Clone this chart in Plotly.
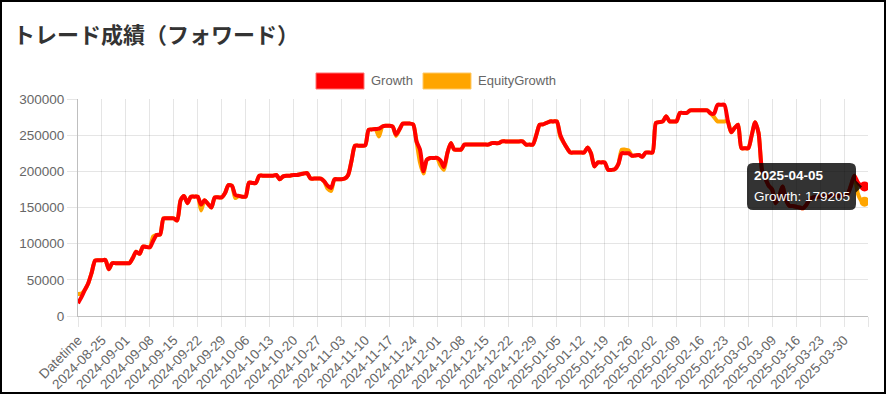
import pandas as pd
import plotly.graph_objects as go

# ---------------- data ----------------
title_text = "トレード成績（フォワード）"
series_names = ["Growth", "EquityGrowth"]

# category labels: header row + daily dates
day_labels = ["Datetime"] + [d.strftime("%Y-%m-%d") for d in pd.date_range("2024-08-19", "2025-04-05", freq="D")]

tick_labels = ["Datetime", "2024-08-25", "2024-09-01", "2024-09-08", "2024-09-15", "2024-09-22",
               "2024-09-29", "2024-10-06", "2024-10-13", "2024-10-20", "2024-10-27", "2024-11-03",
               "2024-11-10", "2024-11-17", "2024-11-24", "2024-12-01", "2024-12-08", "2024-12-15",
               "2024-12-22", "2024-12-29", "2025-01-05", "2025-01-12", "2025-01-19", "2025-01-26",
               "2025-02-02", "2025-02-09", "2025-02-16", "2025-02-23", "2025-03-02", "2025-03-09",
               "2025-03-16", "2025-03-23", "2025-03-30"]

growth = [
    17600, 26000, 36000, 45300, 60000, 76600, 77000, 77000, 77500, 64700,
    73000, 73000, 73000, 73000, 73000, 73000, 80000, 89000, 86000, 96000,
    95500, 95000, 104000, 112000, 112500, 135000, 135000, 135000, 135000, 132000,
    160000, 166000, 156000, 165000, 165000, 165000, 154000, 160000, 155000, 150000,
    164000, 164000, 164000, 170000, 181000, 180000, 167500, 166000, 165000, 165000,
    184500, 184000, 183700, 194000, 194000, 194000, 194000, 194000, 195000, 189000,
    193000, 194000, 194000, 195000, 195000, 196000, 197000, 197500, 190000, 190000,
    190000, 190000, 186000, 180000, 177000, 189000, 189000, 189000, 190000, 195000,
    215000, 235500, 235500, 235500, 236000, 257500, 258000, 258600, 259000, 262000,
    263000, 263000, 262000, 250700, 258000, 266000, 266000, 266000, 265000, 241000,
    230000, 200000, 216000, 218500, 218500, 218500, 215000, 206000, 225000, 239000,
    230000, 230000, 230000, 237000, 237000, 237000, 237000, 237000, 237000, 237000,
    237000, 239000, 239000, 239000, 241400, 241400, 241400, 241400, 241400, 241400,
    241400, 237000, 237000, 237000, 250000, 264500, 265000, 267000, 269000, 269000,
    269000, 250700, 240000, 232000, 226000, 226000, 226000, 226000, 226000, 233000,
    225000, 206800, 212300, 212300, 212300, 202000, 202000, 203000, 210000, 225000,
    225000, 225000, 221500, 222000, 222500, 220000, 226000, 226000, 226000, 267000,
    268000, 269000, 276000, 269000, 269000, 269000, 280700, 280700, 280700, 284400,
    284400, 284400, 284400, 284400, 284400, 280000, 280000, 292000, 292000, 292000,
    270000, 254000, 260000, 264500, 232000, 232000, 232000, 250000, 268000, 253000,
    202000, 190000, 180000, 174500, 156000, 165000, 179000, 160600, 152400, 152000,
    151000, 150000, 149000, 153700, 162000, 164000, 165000, 165000, 166000, 165000,
    166000, 167000, 166000, 166000, 167000, 168000, 180000, 194000, 185000, 180000,
    179205,
]

equity_growth = [
    30500, 31000, 36000, 45300, 60000, 76600, 77000, 77000, 77500, 64700,
    73000, 73000, 73000, 73000, 73000, 73000, 80000, 89000, 86000, 96000,
    95500, 95000, 110000, 112000, 112500, 135000, 135000, 135000, 135000, 132000,
    160000, 166000, 156000, 165000, 165000, 165000, 146000, 160000, 155000, 150000,
    164000, 164000, 164000, 170000, 181000, 180000, 163000, 166000, 165000, 165000,
    184500, 184000, 183700, 194000, 194000, 194000, 194000, 194000, 195000, 189000,
    193000, 194000, 194000, 195000, 195000, 196000, 197000, 197500, 190000, 190000,
    190000, 190000, 186000, 176000, 173000, 189000, 189000, 189000, 190000, 195000,
    215000, 235500, 235500, 235500, 236000, 257500, 258000, 258600, 248000, 262000,
    263000, 263000, 262000, 249000, 258000, 266000, 266000, 266000, 265000, 241000,
    212000, 197000, 216000, 218500, 218500, 218500, 208000, 202000, 225000, 239000,
    230000, 230000, 230000, 237000, 237000, 237000, 237000, 237000, 237000, 237000,
    237000, 239000, 239000, 239000, 241400, 241400, 241400, 241400, 241400, 241400,
    241400, 237000, 237000, 237000, 250000, 264500, 265000, 267000, 269000, 269000,
    269000, 248000, 240000, 232000, 226000, 226000, 226000, 226000, 226000, 233000,
    225000, 206800, 212300, 212300, 212300, 202000, 202000, 203000, 210000, 230000,
    230000, 229000, 221500, 222000, 222500, 220000, 226000, 226000, 226000, 267000,
    268000, 269000, 276000, 269000, 269000, 269000, 280700, 280700, 280700, 284400,
    284400, 284400, 284400, 284400, 284400, 280000, 275000, 269000, 269000, 269000,
    269000, 254000, 260000, 264500, 232000, 232000, 232000, 250000, 268000, 253000,
    202000, 190000, 180000, 174500, 156000, 165000, 179000, 160600, 152400, 152000,
    151000, 150000, 149000, 153700, 162000, 164000, 165000, 165000, 166000, 165000,
    166000, 167000, 166000, 166000, 167000, 168000, 180000, 194000, 170000, 160000,
    158000,
]

# ---------------- layout helpers (pixel -> paper) ----------------
W, H = 886, 394
ML, MR, MT, MB = 78, 18, 99, 78
PW, PH = W - ML - MR, H - MT - MB


def px(x):
    return (x - ML) / PW


def py(y):
    return (H - MB - y) / PH


FONT = "Liberation Sans, Arial, Helvetica, sans-serif"
TXT = "#666666"
GRID = "rgba(0,0,0,0.1)"
AXIS = "rgba(0,0,0,0.25)"
RED = "#ff0000"
ORANGE = "#ffa500"

x_idx = list(range(len(growth)))
tick_vals = [day_labels.index(t) for t in tick_labels] + [len(day_labels)]
tick_text = tick_labels + [""]

fig = go.Figure()
fig.add_trace(go.Scatter(x=x_idx, y=equity_growth, mode="lines", name=series_names[1],
                         line=dict(color=ORANGE, width=4, shape="spline", smoothing=0.7)))
fig.add_trace(go.Scatter(x=x_idx, y=growth, mode="lines", name=series_names[0],
                         line=dict(color=RED, width=4, shape="spline", smoothing=0.7)))
fig.add_trace(go.Scatter(x=[x_idx[-1]], y=[equity_growth[-1]], mode="markers",
                         marker=dict(color=ORANGE, size=10), showlegend=False))
fig.add_trace(go.Scatter(x=[x_idx[-1]], y=[growth[-1]], mode="markers",
                         marker=dict(color=RED, size=10), showlegend=False))

shapes = []
annotations = []

# outer border
shapes.append(dict(type="rect", xref="paper", yref="paper", x0=px(1), x1=px(885), y0=py(393), y1=py(1),
                   line=dict(color="#000000", width=2), fillcolor="rgba(0,0,0,0)", layer="above"))

# title
annotations.append(dict(text="<b>" + title_text + "</b>", xref="paper", yref="paper", x=px(11), y=py(33),
                        xanchor="left", yanchor="middle", showarrow=False,
                        font=dict(family="Noto Sans CJK JP, sans-serif", size=22, color="#333333")))

# legend (chart.js style boxes)
legend_items = [(series_names[0], RED, "#ff7070", 316, 370), (series_names[1], ORANGE, "#ffc966", 423, 477)]
for name, fill, edge, bx, tx in legend_items:
    shapes.append(dict(type="rect", xref="paper", yref="paper", x0=px(bx), x1=px(bx + 48),
                       y0=py(89), y1=py(73), fillcolor=fill, line=dict(color=edge, width=1)))
    annotations.append(dict(text=name, xref="paper", yref="paper", x=px(tx - 1), y=py(81),
                            xanchor="left", yanchor="middle", showarrow=False,
                            font=dict(family=FONT, size=13, color=TXT)))

# tooltip
L, R, T, B, r = 747, 856, 163, 210, 6
path = (f"M {px(L + r)} {py(T)} L {px(R - r)} {py(T)} Q {px(R)} {py(T)} {px(R)} {py(T + r)} "
        f"L {px(R)} {py(B - r)} Q {px(R)} {py(B)} {px(R - r)} {py(B)} "
        f"L {px(L + r)} {py(B)} Q {px(L)} {py(B)} {px(L)} {py(B - r)} "
        f"L {px(L)} {py(T + r)} Q {px(L)} {py(T)} {px(L + r)} {py(T)} Z")
shapes.append(dict(type="path", xref="paper", yref="paper", path=path,
                   fillcolor="rgba(0,0,0,0.8)", line=dict(width=0), layer="above"))
caret = f"M {px(R)} {py(180.5)} L {px(R + 6)} {py(186.5)} L {px(R)} {py(192.5)} Z"
shapes.append(dict(type="path", xref="paper", yref="paper", path=caret,
                   fillcolor="rgba(0,0,0,0.8)", line=dict(width=0), layer="above"))
annotations.append(dict(text="<b>" + day_labels[-1] + "</b>", xref="paper", yref="paper",
                        x=px(752), y=py(175.5), xanchor="left", yanchor="middle", showarrow=False,
                        font=dict(family=FONT, size=13.5, color="#ffffff")))
annotations.append(dict(text=f"{series_names[0]}: {growth[-1]}", xref="paper", yref="paper",
                        x=px(752), y=py(196.5), xanchor="left", yanchor="middle", showarrow=False,
                        font=dict(family=FONT, size=13.5, color="#ffffff")))

fig.update_layout(
    width=W, height=H,
    margin=dict(l=ML, r=MR, t=MT, b=MB, pad=0, autoexpand=False),
    paper_bgcolor="#ffffff", plot_bgcolor="#ffffff",
    showlegend=False, hovermode=False,
    font=dict(family=FONT, color=TXT),
    shapes=shapes, annotations=annotations,
)
fig.update_xaxes(range=[0, len(day_labels)], tickmode="array", tickvals=tick_vals, ticktext=tick_text,
                 tickangle=-45, showgrid=True, gridcolor=GRID, gridwidth=1, zeroline=False,
                 ticks="outside", ticklen=10, tickcolor=GRID, tickwidth=1, automargin=False,
                 showline=True, linecolor=AXIS, linewidth=1,
                 tickfont=dict(family=FONT, size=13.5, color=TXT))
fig.update_yaxes(range=[0, 300000], dtick=50000, tickformat="d", showgrid=True, gridcolor=GRID,
                 gridwidth=1, zeroline=False, ticks="outside", ticklen=10, tickcolor=GRID, tickwidth=1,
                 showline=True, linecolor=AXIS, linewidth=1, automargin=False,
                 tickfont=dict(family=FONT, size=13.5, color=TXT))

fig.write_html("out.html", config={"displayModeBar": False},
               post_script="document.body.style.margin='0';document.body.style.overflow='hidden';")
